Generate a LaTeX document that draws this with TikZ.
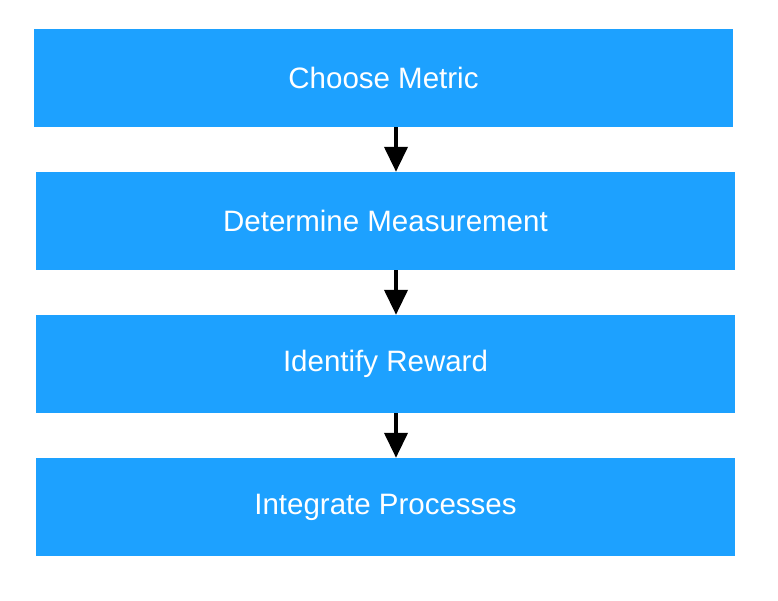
\documentclass[tikz,border=0pt]{standalone}
\usepackage{fontspec}
\setmainfont{Liberation Sans}
\usetikzlibrary{arrows.meta}
\definecolor{stepblue}{HTML}{1DA1FF}
\tikzset{stepbox/.style={draw=none, fill=stepblue, rectangle, text=white, minimum width=699pt, minimum height=98pt, inner sep=0pt, font=\fontsize{29.5}{34}\selectfont}}
\tikzset{flow/.style={line width=4pt, -{Triangle[length=25pt, width=23pt]}}}

\begin{document}
\begin{tikzpicture}[x=1pt, y=-1pt]
	\useasboundingbox (0, 0) rectangle (778, 600);
	\node [style=stepbox] (metric) at (383.5, 78) {Choose Metric};
	\node [style=stepbox] (measure) at (385.5, 221) {Determine Measurement};
	\node [style=stepbox] (reward) at (385.5, 364) {Identify Reward};
	\node [style=stepbox] (integrate) at (385.5, 507) {Integrate Processes};
	\coordinate (axis) at (396, 0);
	\draw [style=flow] (metric.south -| axis) to (measure.north -| axis);
	\draw [style=flow] (measure.south -| axis) to (reward.north -| axis);
	\draw [style=flow] (reward.south -| axis) to (integrate.north -| axis);
\end{tikzpicture}
\end{document}
